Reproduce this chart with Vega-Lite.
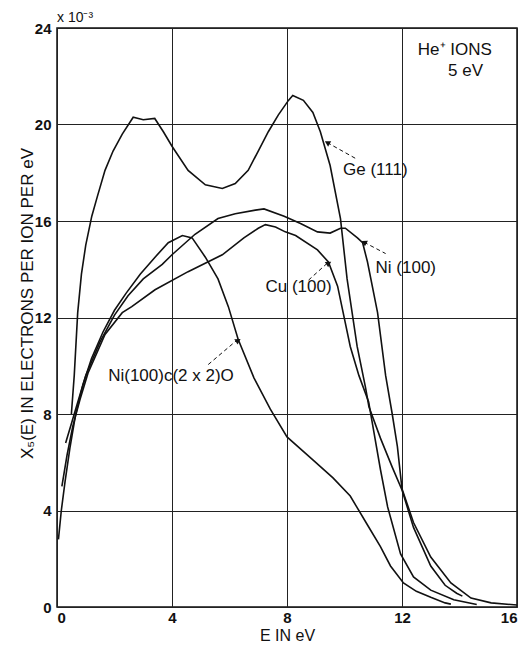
{
  "$schema": "https://vega.github.io/schema/vega-lite/v6.json",
  "width": 460,
  "height": 579,
  "autosize": {"type": "none"},
  "padding": {"left": 57, "top": 28, "right": 7, "bottom": 40},
  "background": "white",
  "config": {
    "view": {"stroke": "#111", "strokeWidth": 1.5},
    "font": "Liberation Sans",
    "axis": {
      "grid": true,
      "gridColor": "#222",
      "gridWidth": 1,
      "gridOpacity": 1,
      "domain": false,
      "ticks": false,
      "labelColor": "#111",
      "labelFontSize": 14,
      "labelFont": "Liberation Sans",
      "titleFont": "Liberation Sans",
      "titleFontSize": 17,
      "titleFontWeight": "normal",
      "titleColor": "#111"
    }
  },
  "datasets": {
    "curves": [
      {"curve": "Ge(111)", "E": 0.5, "X": 8.0},
      {"curve": "Ge(111)", "E": 0.6, "X": 9.6},
      {"curve": "Ge(111)", "E": 0.72, "X": 12.2},
      {"curve": "Ge(111)", "E": 0.85, "X": 13.8},
      {"curve": "Ge(111)", "E": 1.0, "X": 15.0},
      {"curve": "Ge(111)", "E": 1.21, "X": 16.2},
      {"curve": "Ge(111)", "E": 1.4, "X": 17.0},
      {"curve": "Ge(111)", "E": 1.67, "X": 18.1},
      {"curve": "Ge(111)", "E": 1.95, "X": 18.9},
      {"curve": "Ge(111)", "E": 2.27, "X": 19.6},
      {"curve": "Ge(111)", "E": 2.65, "X": 20.3},
      {"curve": "Ge(111)", "E": 3.0, "X": 20.2},
      {"curve": "Ge(111)", "E": 3.4, "X": 20.25},
      {"curve": "Ge(111)", "E": 3.7, "X": 19.7},
      {"curve": "Ge(111)", "E": 4.0, "X": 19.1},
      {"curve": "Ge(111)", "E": 4.56, "X": 18.1},
      {"curve": "Ge(111)", "E": 5.16, "X": 17.5},
      {"curve": "Ge(111)", "E": 5.75, "X": 17.35},
      {"curve": "Ge(111)", "E": 6.2, "X": 17.55},
      {"curve": "Ge(111)", "E": 6.65, "X": 18.1},
      {"curve": "Ge(111)", "E": 7.0, "X": 18.9},
      {"curve": "Ge(111)", "E": 7.35, "X": 19.7},
      {"curve": "Ge(111)", "E": 7.7, "X": 20.4},
      {"curve": "Ge(111)", "E": 8.05, "X": 21.0},
      {"curve": "Ge(111)", "E": 8.2, "X": 21.2},
      {"curve": "Ge(111)", "E": 8.57, "X": 21.0},
      {"curve": "Ge(111)", "E": 8.9, "X": 20.5},
      {"curve": "Ge(111)", "E": 9.16, "X": 19.7},
      {"curve": "Ge(111)", "E": 9.5, "X": 18.3},
      {"curve": "Ge(111)", "E": 9.86, "X": 16.1},
      {"curve": "Ge(111)", "E": 10.09, "X": 13.6},
      {"curve": "Ge(111)", "E": 10.44, "X": 10.8},
      {"curve": "Ge(111)", "E": 10.73, "X": 9.1},
      {"curve": "Ge(111)", "E": 10.85, "X": 8.3},
      {"curve": "Ge(111)", "E": 11.25, "X": 7.0},
      {"curve": "Ge(111)", "E": 11.66, "X": 5.8},
      {"curve": "Ge(111)", "E": 12.0, "X": 4.85},
      {"curve": "Ge(111)", "E": 12.4, "X": 3.3},
      {"curve": "Ge(111)", "E": 13.0, "X": 1.7},
      {"curve": "Ge(111)", "E": 13.5, "X": 0.9},
      {"curve": "Ge(111)", "E": 13.9, "X": 0.57},
      {"curve": "Ge(111)", "E": 14.1, "X": 0.45},

      {"curve": "Ni(100)", "E": 0.3, "X": 6.8},
      {"curve": "Ni(100)", "E": 0.5, "X": 7.6},
      {"curve": "Ni(100)", "E": 0.7, "X": 8.4},
      {"curve": "Ni(100)", "E": 1.0, "X": 9.6},
      {"curve": "Ni(100)", "E": 1.5, "X": 11.0},
      {"curve": "Ni(100)", "E": 2.0, "X": 12.1},
      {"curve": "Ni(100)", "E": 2.47, "X": 12.9},
      {"curve": "Ni(100)", "E": 3.0, "X": 13.6},
      {"curve": "Ni(100)", "E": 3.66, "X": 14.2},
      {"curve": "Ni(100)", "E": 4.0, "X": 14.6},
      {"curve": "Ni(100)", "E": 4.8, "X": 15.45},
      {"curve": "Ni(100)", "E": 5.6, "X": 16.1},
      {"curve": "Ni(100)", "E": 6.2, "X": 16.3},
      {"curve": "Ni(100)", "E": 6.9, "X": 16.45},
      {"curve": "Ni(100)", "E": 7.2, "X": 16.5},
      {"curve": "Ni(100)", "E": 7.9, "X": 16.2},
      {"curve": "Ni(100)", "E": 8.47, "X": 15.9},
      {"curve": "Ni(100)", "E": 9.06, "X": 15.55},
      {"curve": "Ni(100)", "E": 9.5, "X": 15.5},
      {"curve": "Ni(100)", "E": 9.86, "X": 15.7},
      {"curve": "Ni(100)", "E": 10.03, "X": 15.7},
      {"curve": "Ni(100)", "E": 10.45, "X": 15.3},
      {"curve": "Ni(100)", "E": 10.63, "X": 15.1},
      {"curve": "Ni(100)", "E": 10.8, "X": 14.3},
      {"curve": "Ni(100)", "E": 11.15, "X": 12.2},
      {"curve": "Ni(100)", "E": 11.43, "X": 9.6},
      {"curve": "Ni(100)", "E": 11.66, "X": 8.0},
      {"curve": "Ni(100)", "E": 11.84, "X": 6.65},
      {"curve": "Ni(100)", "E": 12.0, "X": 4.9},
      {"curve": "Ni(100)", "E": 12.4, "X": 3.5},
      {"curve": "Ni(100)", "E": 13.0, "X": 2.07},
      {"curve": "Ni(100)", "E": 13.7, "X": 1.0},
      {"curve": "Ni(100)", "E": 14.4, "X": 0.37},
      {"curve": "Ni(100)", "E": 15.1, "X": 0.17},
      {"curve": "Ni(100)", "E": 16.0, "X": 0.08},

      {"curve": "Cu(100)", "E": 0.17, "X": 5.0},
      {"curve": "Cu(100)", "E": 0.35, "X": 6.3},
      {"curve": "Cu(100)", "E": 0.55, "X": 7.5},
      {"curve": "Cu(100)", "E": 0.8, "X": 8.6},
      {"curve": "Cu(100)", "E": 1.08, "X": 9.7},
      {"curve": "Cu(100)", "E": 1.67, "X": 11.3},
      {"curve": "Cu(100)", "E": 2.27, "X": 12.2},
      {"curve": "Cu(100)", "E": 2.6, "X": 12.45},
      {"curve": "Cu(100)", "E": 3.41, "X": 13.15},
      {"curve": "Cu(100)", "E": 4.56, "X": 13.9},
      {"curve": "Cu(100)", "E": 5.75, "X": 14.6},
      {"curve": "Cu(100)", "E": 6.5, "X": 15.3},
      {"curve": "Cu(100)", "E": 7.0, "X": 15.7},
      {"curve": "Cu(100)", "E": 7.25, "X": 15.85},
      {"curve": "Cu(100)", "E": 7.6, "X": 15.75},
      {"curve": "Cu(100)", "E": 7.94, "X": 15.55},
      {"curve": "Cu(100)", "E": 8.3, "X": 15.4},
      {"curve": "Cu(100)", "E": 9.06, "X": 14.8},
      {"curve": "Cu(100)", "E": 9.44, "X": 14.3},
      {"curve": "Cu(100)", "E": 9.76, "X": 13.3},
      {"curve": "Cu(100)", "E": 10.2, "X": 10.8},
      {"curve": "Cu(100)", "E": 10.5, "X": 9.6},
      {"curve": "Cu(100)", "E": 10.84, "X": 8.5},
      {"curve": "Cu(100)", "E": 11.0, "X": 7.4},
      {"curve": "Cu(100)", "E": 11.25, "X": 5.7},
      {"curve": "Cu(100)", "E": 11.5, "X": 4.15},
      {"curve": "Cu(100)", "E": 11.95, "X": 2.2},
      {"curve": "Cu(100)", "E": 12.4, "X": 1.25},
      {"curve": "Cu(100)", "E": 13.0, "X": 0.7},
      {"curve": "Cu(100)", "E": 13.8, "X": 0.3},
      {"curve": "Cu(100)", "E": 14.6, "X": 0.1},

      {"curve": "Ni(100)c(2x2)O", "E": 0.05, "X": 2.8},
      {"curve": "Ni(100)c(2x2)O", "E": 0.15, "X": 4.0},
      {"curve": "Ni(100)c(2x2)O", "E": 0.28, "X": 5.2},
      {"curve": "Ni(100)c(2x2)O", "E": 0.45, "X": 6.6},
      {"curve": "Ni(100)c(2x2)O", "E": 0.65, "X": 8.0},
      {"curve": "Ni(100)c(2x2)O", "E": 0.9, "X": 9.2},
      {"curve": "Ni(100)c(2x2)O", "E": 1.2, "X": 10.3},
      {"curve": "Ni(100)c(2x2)O", "E": 1.6, "X": 11.4},
      {"curve": "Ni(100)c(2x2)O", "E": 2.0, "X": 12.3},
      {"curve": "Ni(100)c(2x2)O", "E": 2.4, "X": 13.0},
      {"curve": "Ni(100)c(2x2)O", "E": 2.9, "X": 13.8},
      {"curve": "Ni(100)c(2x2)O", "E": 3.41, "X": 14.5},
      {"curve": "Ni(100)c(2x2)O", "E": 3.87, "X": 15.1},
      {"curve": "Ni(100)c(2x2)O", "E": 4.36, "X": 15.4},
      {"curve": "Ni(100)c(2x2)O", "E": 4.7, "X": 15.3},
      {"curve": "Ni(100)c(2x2)O", "E": 5.16, "X": 14.5},
      {"curve": "Ni(100)c(2x2)O", "E": 5.6, "X": 13.6},
      {"curve": "Ni(100)c(2x2)O", "E": 5.96, "X": 12.45},
      {"curve": "Ni(100)c(2x2)O", "E": 6.3, "X": 11.1},
      {"curve": "Ni(100)c(2x2)O", "E": 6.85, "X": 9.5},
      {"curve": "Ni(100)c(2x2)O", "E": 7.42, "X": 8.2},
      {"curve": "Ni(100)c(2x2)O", "E": 8.0, "X": 7.05},
      {"curve": "Ni(100)c(2x2)O", "E": 8.9, "X": 6.1},
      {"curve": "Ni(100)c(2x2)O", "E": 9.6, "X": 5.35},
      {"curve": "Ni(100)c(2x2)O", "E": 10.2, "X": 4.6},
      {"curve": "Ni(100)c(2x2)O", "E": 10.45, "X": 4.1},
      {"curve": "Ni(100)c(2x2)O", "E": 10.8, "X": 3.4},
      {"curve": "Ni(100)c(2x2)O", "E": 11.25, "X": 2.5},
      {"curve": "Ni(100)c(2x2)O", "E": 11.6, "X": 1.7},
      {"curve": "Ni(100)c(2x2)O", "E": 12.05, "X": 1.0},
      {"curve": "Ni(100)c(2x2)O", "E": 12.5, "X": 0.65},
      {"curve": "Ni(100)c(2x2)O", "E": 13.0, "X": 0.4},
      {"curve": "Ni(100)c(2x2)O", "E": 13.5, "X": 0.17},
      {"curve": "Ni(100)c(2x2)O", "E": 13.7, "X": 0.12}
    ],
    "arrows": [
      {"curve": "Ge(111)", "part": "tail", "E": 10.45, "X": 18.55},
      {"curve": "Ge(111)", "part": "tip", "E": 9.4, "X": 19.25},
      {"curve": "Ni(100)", "part": "tail", "E": 11.43, "X": 14.65},
      {"curve": "Ni(100)", "part": "tip", "E": 10.68, "X": 15.12},
      {"curve": "Cu(100)", "part": "tail", "E": 8.75, "X": 13.55},
      {"curve": "Cu(100)", "part": "tip", "E": 9.4, "X": 14.25},
      {"curve": "Ni(100)c(2x2)O", "part": "tail", "E": 5.26, "X": 10.05},
      {"curve": "Ni(100)c(2x2)O", "part": "tip", "E": 6.25, "X": 11.05}
    ],
    "labels": [
      {"text": "Ge (111)", "E": 9.95, "X": 18.1},
      {"text": "Ni (100)", "E": 11.08, "X": 14.07},
      {"text": "Cu (100)", "E": 7.25, "X": 13.28},
      {"text": "Ni(100)c(2 x 2)O", "E": 1.78, "X": 9.58},
      {"text": "He⁺ IONS", "E": 12.55, "X": 23.1},
      {"text": "5 eV", "E": 13.6, "X": 22.2}
    ],
    "unit": [
      {"text": "x 10⁻³", "E": 0, "X": 24}
    ]
  },
  "layer": [
    {
      "data": {"name": "curves"},
      "mark": {"type": "line", "color": "#111", "strokeWidth": 1.6, "clip": true},
      "encoding": {
        "x": {
          "field": "E", "type": "quantitative",
          "scale": {"domain": [0, 16], "nice": false},
          "axis": {"values": [0, 4, 8, 12, 16], "title": "E IN eV", "labelPadding": 3, "titlePadding": 2, "titleFontSize": 16, "labelFontWeight": "bold", "labelFontSize": 15}
        },
        "y": {
          "field": "X", "type": "quantitative",
          "scale": {"domain": [0, 24], "nice": false},
          "axis": {
            "values": [0, 4, 8, 12, 16, 20, 24],
            "title": "X₅(E) IN ELECTRONS PER ION PER eV",
            "labelPadding": 6,
            "labelFontWeight": "bold",
            "labelFontSize": 15,
            "titleX": -30,
            "titleY": 275,
            "titleBaseline": "middle",
            "titleAlign": "center"
          }
        },
        "detail": {"field": "curve", "type": "nominal"},
        "order": {"field": "E", "type": "quantitative"}
      }
    },
    {
      "data": {"name": "arrows"},
      "mark": {"type": "line", "color": "#111", "strokeWidth": 1, "strokeDash": [4, 3]},
      "encoding": {
        "x": {"field": "E", "type": "quantitative"},
        "y": {"field": "X", "type": "quantitative"},
        "detail": {"field": "curve", "type": "nominal"}
      }
    },
    {
      "data": {"name": "arrows"},
      "transform": [{"filter": "datum.part === 'tip'"}],
      "mark": {"type": "point", "shape": "triangle-up", "filled": true, "color": "#111", "size": 40, "opacity": 1},
      "encoding": {
        "x": {"field": "E", "type": "quantitative"},
        "y": {"field": "X", "type": "quantitative"},
        "angle": {
          "field": "curve", "type": "nominal",
          "scale": {"domain": ["Ge(111)", "Ni(100)", "Cu(100)", "Ni(100)c(2x2)O"], "range": [299, 298, 48, 50]},
          "legend": null
        }
      }
    },
    {
      "data": {"name": "labels"},
      "mark": {"type": "text", "align": "left", "baseline": "middle", "fontSize": 17, "color": "#111", "font": "Liberation Sans"},
      "encoding": {
        "x": {"field": "E", "type": "quantitative"},
        "y": {"field": "X", "type": "quantitative"},
        "text": {"field": "text"}
      }
    },
    {
      "data": {"name": "unit"},
      "mark": {"type": "text", "align": "left", "baseline": "bottom", "dy": -3, "fontSize": 14, "color": "#111", "font": "Liberation Sans"},
      "encoding": {
        "x": {"field": "E", "type": "quantitative"},
        "y": {"field": "X", "type": "quantitative"},
        "text": {"field": "text"}
      }
    }
  ]
}
